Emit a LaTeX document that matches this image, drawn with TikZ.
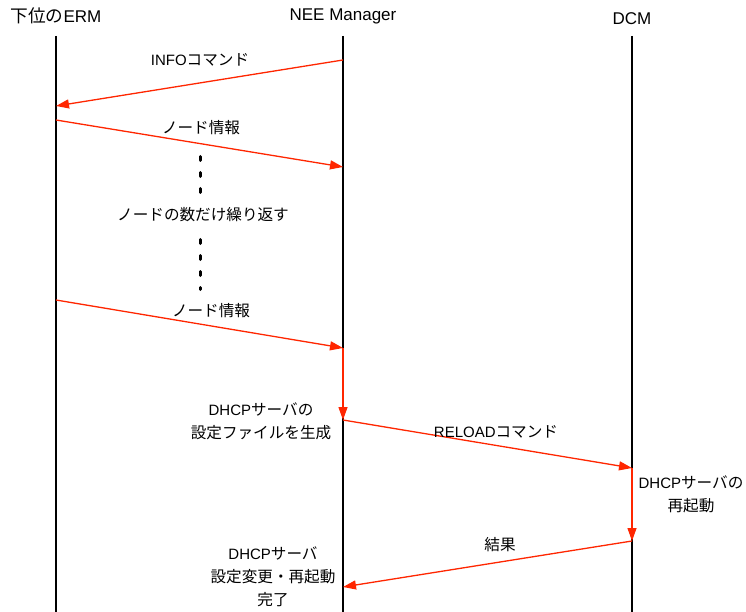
\documentclass[tikz,border=0pt]{standalone}
\usepackage{fontspec}
\setmainfont{Liberation Sans}
\newfontfamily\jpfont{Noto Sans CJK JP}[Scale=1.04]
\newcommand{\jp}[1]{{\jpfont #1}}
\usetikzlibrary{arrows.meta}
\definecolor{msgred}{RGB}{255,38,0}
\begin{document}
\begin{tikzpicture}[x=1pt,y=-1pt,
  lifeline/.style={draw=black, line width=1.1pt},
  msg/.style={draw=msgred, line width=1.3pt, -{Triangle[length=13pt,width=9pt]}},
  titletext/.style={font=\fontsize{17}{20}\selectfont, inner sep=0pt, anchor=center},
  lbl/.style={font=\fontsize{15}{23}\selectfont, inner sep=0pt, align=center},
  repdots/.style={draw=black, line width=3pt, line cap=round, dash pattern=on 4pt off 12pt}]
\useasboundingbox[fill=white] (0,0) rectangle (746,612);

% titles
\node[titletext] (tERM) at (56,16) {\jp{下位の}ERM};
\node[titletext] (tNEE) at (343,16) {NEE Manager};
\node[titletext] (tDCM) at (632,19) {DCM};

% lifelines
\coordinate (ermT) at (56,36);  \coordinate (ermB) at (56,612);
\coordinate (neeT) at (343,36); \coordinate (neeB) at (343,612);
\coordinate (dcmT) at (632,36); \coordinate (dcmB) at (632,612);
\draw[lifeline] (ermT) -- (ermB);
\draw[lifeline] (neeT) -- (neeB);
\draw[lifeline] (dcmT) -- (dcmB);

% message points
\coordinate (m1s) at (343,60);  \coordinate (m1e) at (56,106);
\coordinate (m2s) at (56,120);  \coordinate (m2e) at (343,167);
\coordinate (m3s) at (56,300);  \coordinate (m3e) at (343,348);
\coordinate (m4e) at (343,420);
\coordinate (m5e) at (632,468);
\coordinate (m6e) at (632,541);
\coordinate (m7e) at (343,587);

\draw[msg] (m1s) -- (m1e);
\draw[msg] (m2s) -- (m2e);
\draw[msg] (m3s) -- (m3e);
\draw[msg] (m3e) -- (m4e);
\draw[msg] (m4e) -- (m5e);
\draw[msg] (m5e) -- (m6e);
\draw[msg] (m6e) -- (m7e);

% labels
\node[lbl] (l1) at (200,60) {INFO\jp{コマンド}};
\node[lbl] (l2) at (201,128) {\jp{ノード情報}};
\node[lbl] (l3) at (203,215) {\jp{ノードの数だけ繰り返す}};
\node[lbl] (l4) at (211,311) {\jp{ノード情報}};
\node[lbl] (l5) at (261,421) {DHCP\jp{サーバの}\\\jp{設定ファイルを生成}};
\node[lbl] (l6) at (496,432) {RELOAD\jp{コマンド}};
\node[lbl] (l7) at (691,494) {DHCP\jp{サーバの}\\\jp{再起動}};
\node[lbl] (l8) at (500,545) {\jp{結果}};
\node[lbl] (l9) at (273,577) {DHCP\jp{サーバ}\\\jp{設定変更・再起動}\\\jp{完了}};

% repetition dots
\coordinate (d1a) at (200,156.5); \coordinate (d1b) at (200,195);
\coordinate (d2a) at (200,239.5); \coordinate (d2b) at (200,289.5);
\draw[repdots] (d1a) -- (d1b);
\draw[repdots] (d2a) -- (d2b);
\end{tikzpicture}
\end{document}
